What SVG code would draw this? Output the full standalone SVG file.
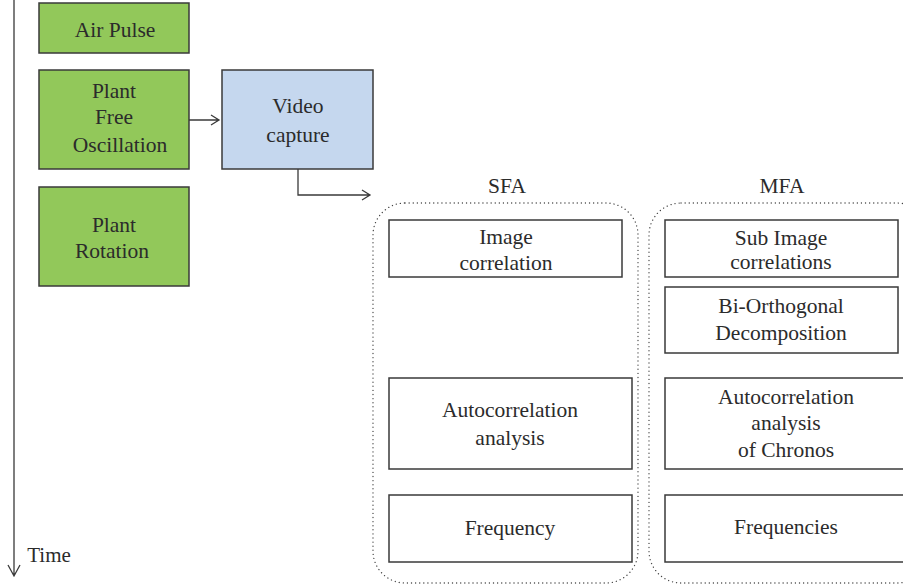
<svg xmlns="http://www.w3.org/2000/svg" width="903" height="588" viewBox="0 0 903 588">
<style>
text{font-size:21.5px;fill:#2b2b2b;text-anchor:middle}
.g{fill:#92c85a;stroke:#3a3a3a;stroke-width:1.5}
.b{fill:#c5d7ee;stroke:#3a3a3a;stroke-width:1.5}
.w{fill:#fff;stroke:#3a3a3a;stroke-width:1.5}
.c{fill:none;stroke:#3a3a3a;stroke-width:1.3}
.d{fill:none;stroke:#444;stroke-width:1.3;stroke-dasharray:0.1 4;stroke-linecap:round}
</style>
<rect width="903" height="588" fill="#fff"/>
<g id="connectors">
<path class="c" d="M14,0 V576 M8,565 L14,576 L20,565"/>
<path class="c" d="M189,120 H219 M211,115 L219,120 L211,125"/>
<path class="c" d="M298,169 V195 H370 M362,190 L370,195 L362,200"/>
</g>
<g font-family="'Liberation Serif', 'DejaVu Serif', serif">
<g id="time"><text x="49" y="562" style="font-size:21px">Time</text></g>
<g id="air-pulse"><rect class="g" x="39" y="3" width="150" height="50"/><text x="115" y="37">Air Pulse</text></g>
<g id="plant-free-oscillation"><rect class="g" x="39" y="70" width="150" height="99"/><text x="114" y="98">Plant</text><text x="114" y="124">Free</text><text x="120" y="152">Oscillation</text></g>
<g id="plant-rotation"><rect class="g" x="39" y="187" width="150" height="99"/><text x="114" y="232">Plant</text><text x="112" y="258">Rotation</text></g>
<g id="video-capture"><rect class="b" x="222" y="70" width="151" height="99"/><text x="298" y="113">Video</text><text x="298" y="142">capture</text></g>
<g id="sfa">
<text x="507" y="193">SFA</text>
<rect class="d" x="373" y="203" width="265" height="380" rx="32"/>
</g>
<g id="mfa">
<text x="782" y="193">MFA</text>
<rect class="d" x="649" y="203" width="280" height="380" rx="32"/>
</g>
<g id="image-correlation"><rect class="w" x="389" y="220" width="233" height="57"/><text x="506" y="244">Image</text><text x="506" y="270">correlation</text></g>
<g id="autocorrelation-analysis"><rect class="w" x="389" y="378" width="243" height="91"/><text x="510" y="417">Autocorrelation</text><text x="510" y="445">analysis</text></g>
<g id="frequency"><rect class="w" x="389" y="495" width="243" height="67"/><text x="510" y="535">Frequency</text></g>
<g id="sub-image-correlations"><rect class="w" x="665" y="220" width="233" height="57"/><text x="781" y="245">Sub Image</text><text x="781" y="269">correlations</text></g>
<g id="bi-orthogonal-decomposition"><rect class="w" x="665" y="287" width="233" height="66"/><text x="781" y="313">Bi-Orthogonal</text><text x="781" y="340">Decomposition</text></g>
<g id="autocorrelation-chronos"><rect class="w" x="665" y="378" width="243" height="91"/><text x="786" y="404">Autocorrelation</text><text x="786" y="430">analysis</text><text x="786" y="457">of Chronos</text></g>
<g id="frequencies"><rect class="w" x="665" y="495" width="243" height="67"/><text x="786" y="534">Frequencies</text></g>
</g>
</svg>
